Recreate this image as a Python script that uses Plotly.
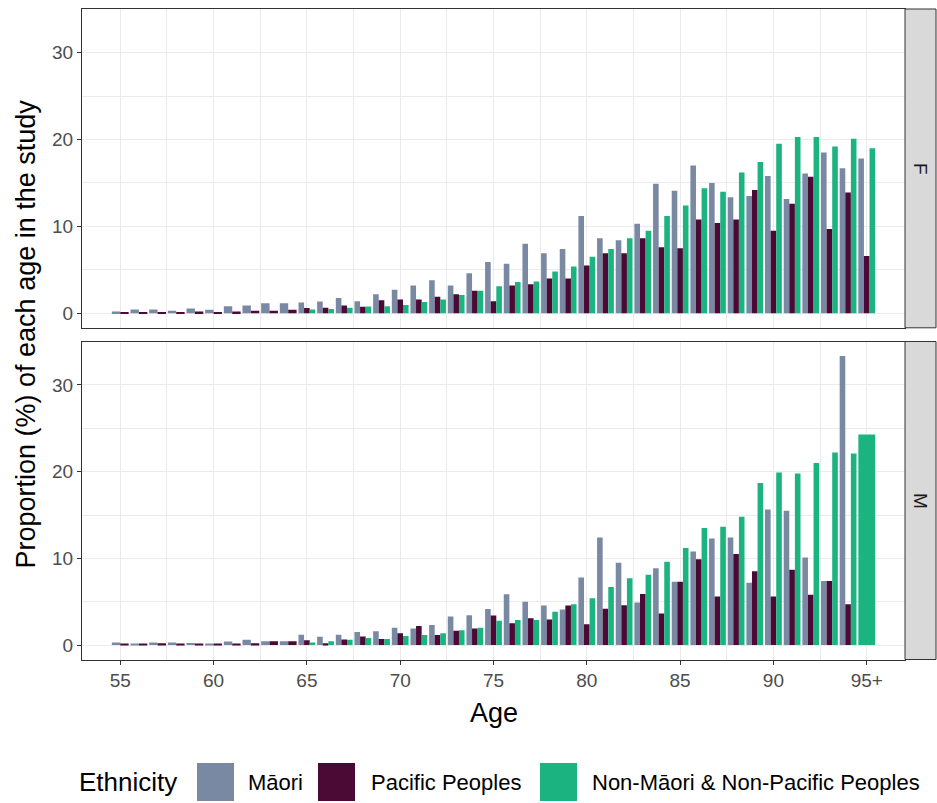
import plotly.graph_objects as go

# ---------------- data ----------------
ages = list(range(55, 96))
tick_ages = [55, 60, 65, 70, 75, 80, 85, 90, 95]
tick_text = ["55", "60", "65", "70", "75", "80", "85", "90", "95+"]
groups = ["Māori", "Pacific Peoples", "Non-Māori & Non-Pacific Peoples"]
panels = ["F", "M"]

F_maori = [0.2, 0.45, 0.45, 0.3, 0.55, 0.4, 0.8, 0.9, 1.15, 1.15,
           1.25, 1.35, 1.75, 1.4, 2.2, 2.7, 3.2, 3.8, 3.2, 4.6,
           5.9, 5.7, 8.0, 6.9, 7.4, 11.2, 8.65, 8.4, 10.3, 14.9,
           14.1, 17.0, 15.0, 13.35, 13.5, 15.8, 13.15, 16.1, 18.5, 16.7,
           17.8]
F_pacific = [0.1, 0.15, 0.1, 0.15, 0.2, 0.15, 0.2, 0.3, 0.3, 0.4,
             0.6, 0.65, 0.9, 0.75, 1.5, 1.6, 1.6, 1.9, 2.2, 2.6,
             1.4, 3.2, 3.35, 4.0, 4.0, 5.5, 6.9, 6.9, 8.65, 7.6,
             7.5, 10.8, 10.4, 10.8, 14.2, 9.5, 12.6, 15.7, 9.7, 13.9,
             6.6]
F_other = [None, None, None, None, None, None, None, None, None, None,
           0.45, 0.5, 0.65, 0.77, 0.8, 0.96, 1.3, 1.6, 2.1, 2.6,
           3.1, 3.6, 3.65, 4.8, 5.4, 6.5, 7.4, 8.65, 9.5, 11.2,
           12.4, 14.4, 14.0, 16.2, 17.4, 19.5, 20.3, 20.3, 19.2, 20.1,
           19.0]

M_maori = [0.3, 0.1, 0.3, 0.3, 0.25, 0.15, 0.4, 0.6, 0.45, 0.45,
           1.2, 0.95, 1.2, 1.5, 1.6, 2.0, 1.9, 2.3, 3.3, 3.45,
           4.15, 5.85, 5.0, 4.55, 4.1, 7.8, 12.4, 9.5, 4.9, 8.85,
           7.3, 10.8, 12.3, 12.4, 7.2, 15.65, 15.5, 10.1, 7.4, 33.35,
           None]
M_pacific = [0.1, 0.1, 0.2, 0.15, 0.1, 0.1, 0.15, 0.2, 0.45, 0.45,
             0.55, 0.2, 0.65, 1.0, 0.7, 1.35, 2.2, 1.15, 1.65, 1.9,
             3.4, 2.5, 3.1, 2.95, 4.55, 2.4, 4.2, 4.6, 5.9, 3.65,
             7.3, 9.9, 5.6, 10.5, 8.5, 5.6, 8.7, 5.8, 7.4, 4.7,
             None]
M_other = [None, None, None, None, None, None, None, None, None, None,
           0.3, 0.45, 0.6, 0.8, 0.7, 1.05, 1.15, 1.35, 1.7, 2.0,
           2.8, 2.9, 2.9, 3.85, 4.7, 5.4, 6.7, 7.7, 8.1, 9.6,
           11.2, 13.5, 13.65, 14.8, 18.7, 19.9, 19.8, 21.0, 22.2, 22.1,
           24.3]

data = {"F": [F_maori, F_pacific, F_other],
        "M": [M_maori, M_pacific, M_other]}

# ---------------- style ----------------
colors = ["#7A89A3", "#4B0A36", "#1BB380"]
FONT = "Liberation Sans, Arial, sans-serif"
W, H = 937, 803
DODGE = 0.9

def px_x(p):
    return p / W

def px_y(p):
    return 1 - p / H

x_dom = [px_x(82), px_x(905)]
y_doms = {"F": [px_y(327.8), px_y(9.0)], "M": [px_y(659.5), px_y(341.5)]}

all_vals = [v for p in panels for s in data[p] for v in s if v is not None]
ymax = max(all_vals)
ypad = 0.05 * ymax
y_range = [-ypad, ymax + ypad]

fig = go.Figure()

for pi, panel in enumerate(panels):
    series = data[panel]
    xs = [[] for _ in groups]
    ys = [[] for _ in groups]
    ws = [[] for _ in groups]
    offs = [[] for _ in groups]
    for i, age in enumerate(ages):
        present = [g for g in range(len(groups)) if series[g][i] is not None]
        n = len(present)
        if n == 0:
            continue
        w = DODGE / n
        for k, g in enumerate(present):
            xs[g].append(age)
            ys[g].append(series[g][i])
            ws[g].append(w)
            offs[g].append(-DODGE / 2 + k * w)
    axis_suffix = "" if pi == 0 else "2"
    for g, name in enumerate(groups):
        fig.add_trace(go.Bar(
            x=xs[g], y=ys[g], width=ws[g], offset=offs[g],
            name=name, marker=dict(color=colors[g], line=dict(width=0)),
            showlegend=False,
            xaxis="x" + axis_suffix, yaxis="y" + axis_suffix,
        ))

minor_x = [t + 2.5 for t in range(50, 100, 5)]
grid_major = "#EBEBEB"

common_x = dict(
    range=[52.95, 97.05], domain=x_dom, showline=True, mirror=True,
    linecolor="#333333", linewidth=1, showgrid=True, gridcolor=grid_major,
    gridwidth=1.1, zeroline=False, tickmode="array", tickvals=tick_ages,
    ticktext=tick_text,
    minor=dict(tickvals=minor_x, showgrid=True, gridcolor=grid_major,
               gridwidth=0.6, ticklen=0),
    tickfont=dict(family=FONT, size=19, color="#4D4D4D"),
)
common_y = dict(
    range=y_range, showline=True, mirror=True, linecolor="#333333",
    linewidth=1, showgrid=True, gridcolor=grid_major, gridwidth=1.1,
    zeroline=False, tickmode="array", tickvals=[0, 10, 20, 30],
    minor=dict(tickvals=[5, 15, 25, 35], showgrid=True, gridcolor=grid_major,
               gridwidth=0.6, ticklen=0),
    ticks="outside", ticklen=4, tickcolor="#333333", tickwidth=1,
    tickfont=dict(family=FONT, size=19, color="#4D4D4D"),
)

fig.update_layout(
    width=W, height=H, margin=dict(l=0, r=0, t=0, b=0),
    paper_bgcolor="white", plot_bgcolor="white", barmode="overlay",
    font=dict(family=FONT, color="black"),
    xaxis=dict(common_x, anchor="y", matches="x2", showticklabels=False,
               ticks=""),
    yaxis=dict(common_y, domain=y_doms["F"], anchor="x"),
    xaxis2=dict(common_x, anchor="y2", ticks="outside", ticklen=4,
                tickcolor="#333333", tickwidth=1),
    yaxis2=dict(common_y, domain=y_doms["M"], anchor="x2"),
)

shapes = []
annotations = []

# facet strips
for panel in panels:
    d = y_doms[panel]
    shapes.append(dict(type="rect", xref="paper", yref="paper",
                       x0=px_x(905), x1=px_x(936), y0=d[0], y1=d[1],
                       fillcolor="#D9D9D9", line=dict(color="#333333", width=1),
                       layer="above"))
    annotations.append(dict(text=panel, xref="paper", yref="paper",
                            x=px_x(920.5), y=(d[0] + d[1]) / 2, showarrow=False,
                            textangle=90, xanchor="center", yanchor="middle",
                            font=dict(family=FONT, size=19, color="#1A1A1A")))

# axis titles
annotations.append(dict(text="Proportion (%) of each age in the study",
                        xref="paper", yref="paper", x=px_x(25), y=px_y(334.5),
                        textangle=-90, showarrow=False, xanchor="center",
                        yanchor="middle", font=dict(family=FONT, size=27,
                                                    color="black")))
annotations.append(dict(text="Age", xref="paper", yref="paper",
                        x=(x_dom[0] + x_dom[1]) / 2, y=px_y(713),
                        showarrow=False, xanchor="center", yanchor="middle",
                        font=dict(family=FONT, size=27, color="black")))

# legend (drawn manually)
leg_y = px_y(782)
annotations.append(dict(text="Ethnicity", xref="paper", yref="paper",
                        x=px_x(77), y=leg_y, showarrow=False, xanchor="left",
                        yanchor="middle",
                        font=dict(family=FONT, size=26, color="black")))
box_left = [197, 318, 540]
text_left = [246, 369, 590]
for g, name in enumerate(groups):
    shapes.append(dict(type="rect", xref="paper", yref="paper",
                       x0=px_x(box_left[g]), x1=px_x(box_left[g] + 37),
                       y0=px_y(801), y1=px_y(763), fillcolor=colors[g],
                       line=dict(width=0)))
    annotations.append(dict(text=name, xref="paper", yref="paper",
                            x=px_x(text_left[g]), y=leg_y, showarrow=False,
                            xanchor="left", yanchor="middle",
                            font=dict(family=FONT, size=22, color="black")))

fig.update_layout(shapes=shapes, annotations=annotations)

fig.write_html("out.html")
